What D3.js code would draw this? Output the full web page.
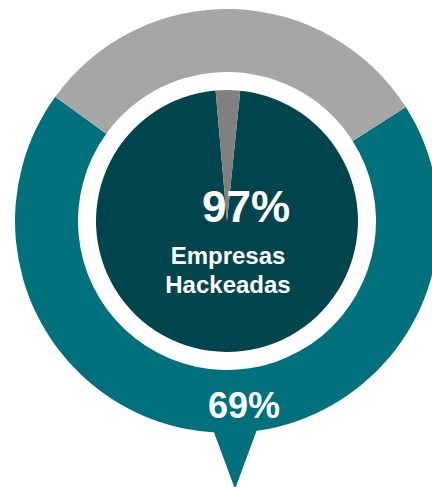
<!DOCTYPE html>
<html>
<head>
<meta charset="utf-8">
<script src="https://cdn.jsdelivr.net/npm/d3@7.9.0/dist/d3.min.js"></script>
<style>
  html, body { margin: 0; padding: 0; background: #fff; }
  svg { display: block; }
  text { font-family: "Liberation Sans", Arial, sans-serif; font-weight: bold; fill: #fff; }
</style>
</head>
<body>
<svg id="chart" width="432" height="487"></svg>
<script>
// --- Data ---
const ringLabels = ['Hackeadas', 'Resto'];
const ringValues = [69, 31];
const innerLabels = ['Empresas hackeadas', 'Resto'];
const innerValues = [97, 3];
const ringColors = ['#00717c', '#a6a6a6'];
const innerColors = ['#00444e', '#808080'];

// --- Layout ---
const width = 432, height = 487;
const cx = 227, cy = 221;
const outerR = 212, ringInnerR = 149, pieR = 131;
const deg = Math.PI / 180;

const svg = d3.select('#chart');
const g = svg.append('g').attr('transform', `translate(${cx},${cy})`);

// outer ring (teal starts right of top, gray ends up on top)
const ringStart = 57.5 * deg;
const ringPie = d3.pie().sort(null).startAngle(ringStart).endAngle(ringStart + 2 * Math.PI);
const ringArc = d3.arc().innerRadius(ringInnerR).outerRadius(outerR);

g.selectAll('path.ring')
  .data(ringPie(ringValues))
  .join('path')
  .attr('class', 'ring')
  .attr('d', ringArc)
  .attr('fill', (d, i) => ringColors[i]);

// pointer under the ring
const tipW = 23, tipX = 8;
const pointer = d3.line()([
  [tipX - tipW, outerR - 6],
  [tipX + tipW, outerR - 6],
  [tipX, height - cy + 2]
]);
g.append('path').attr('d', pointer + 'Z').attr('fill', ringColors[0]);

// inner pie
const innerStart = 5.8 * deg;
const innerPie = d3.pie().sort(null).startAngle(innerStart).endAngle(innerStart + 2 * Math.PI);
const innerArc = d3.arc().innerRadius(0).outerRadius(pieR);

g.selectAll('path.inner')
  .data(innerPie(innerValues))
  .join('path')
  .attr('class', 'inner')
  .attr('d', innerArc)
  .attr('fill', (d, i) => innerColors[i]);

// labels
g.append('text')
  .attr('x', 19).attr('y', 1)
  .attr('text-anchor', 'middle')
  .attr('font-size', 44)
  .text(innerValues[0] + '%');

g.append('text')
  .attr('text-anchor', 'middle')
  .attr('font-size', 24)
  .selectAll('tspan')
  .data(['Empresas', 'Hackeadas'])
  .join('tspan')
  .attr('x', 1)
  .attr('y', (d, i) => 43 + i * 29)
  .text(d => d);

g.append('text')
  .attr('x', 17).attr('y', 197)
  .attr('text-anchor', 'middle')
  .attr('font-size', 36)
  .text(ringValues[0] + '%');
</script>
</body>
</html>
